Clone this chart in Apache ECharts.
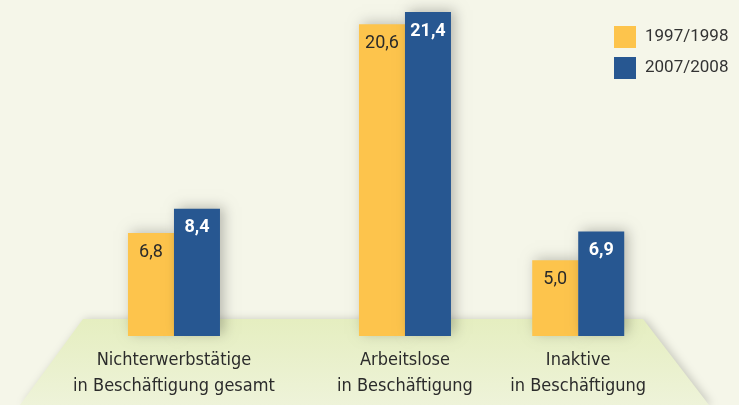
<!DOCTYPE html>
<html>
<head>
<meta charset="utf-8">
<script src="https://cdn.jsdelivr.net/npm/echarts@6/dist/echarts.min.js"></script>
<style>
html,body{margin:0;padding:0;background:#f5f6e9;}
#c{width:739px;height:405px;}
</style>
</head>
<body>
<div id="c"></div>
<script>
// Category slots (blank slots reproduce the uneven spacing of the groups)
const categories = ['Nichterwerbstätige\nin Beschäftigung gesamt', '', '', '', 'Arbeitslose\nin Beschäftigung', '', '', 'Inaktive\nin Beschäftigung'];
const seriesNames = ['1997/1998', '2007/2008'];
const values1998 = [6.8, null, null, null, 20.6, null, null, 5.0];
const values2008 = [8.4, null, null, null, 21.4, null, null, 6.9];

const chart = echarts.init(document.getElementById('c'), null, {renderer: 'canvas'});
const fmt = p => p.value == null ? '' : p.value.toFixed(1).replace('.', ',');
const font = "Roboto, 'Open Sans', sans-serif";

chart.setOption({
  backgroundColor: '#f5f6e9',
  animation: false,
  graphic: [{
    type: 'polygon',
    z: -10,
    shape: {points: [[83, 319], [643, 319], [709, 405], [20, 405]]},
    style: {
      fill: {type: 'linear', x: 0, y: 0, x2: 0, y2: 1, colorStops: [
        {offset: 0, color: '#e5eec0'}, {offset: 1, color: '#eef3d9'}]},
      shadowBlur: 8, shadowColor: 'rgba(0,0,0,0.18)', shadowOffsetX: 3
    }
  }],
  legend: {
    left: 609, top: 21, orient: 'vertical',
    itemWidth: 22, itemHeight: 22, itemGap: 9,
    icon: 'rect',
    textStyle: {fontFamily: font, fontSize: 17, color: '#333', padding: [0, 0, 0, 4]},
    data: seriesNames
  },
  grid: {left: 145.1, width: 462, top: 0, bottom: 69, containLabel: false},
  xAxis: {
    type: 'category', data: categories,
    axisLine: {show: false}, axisTick: {show: false},
    axisLabel: {
      interval: 0, margin: 11,
      fontFamily: "'Liberation Sans Narrow', 'DejaVu Sans Condensed', sans-serif",
      fontSize: 18, color: '#2b2b2b', lineHeight: 26
    }
  },
  yAxis: {type: 'value', min: 0, max: 22.2, show: false, splitLine: {show: false}},
  series: [
    {
      name: seriesNames[0], type: 'bar', data: values1998,
      barWidth: 46, barGap: '0%', clip: false,
      itemStyle: {color: '#fdc44c', shadowBlur: 12, shadowColor: 'rgba(0,0,0,0.22)', shadowOffsetX: 3, shadowOffsetY: -2},
      label: {show: true, position: 'insideTop', distance: 10, formatter: fmt,
        fontFamily: font, fontSize: 18, color: '#2a2a2a'}
    },
    {
      name: seriesNames[1], type: 'bar', data: values2008,
      barWidth: 46, clip: false,
      itemStyle: {color: '#275791', shadowBlur: 12, shadowColor: 'rgba(0,0,0,0.25)', shadowOffsetX: 4, shadowOffsetY: -2},
      label: {show: true, position: 'insideTop', distance: 10, formatter: fmt,
        fontFamily: font, fontSize: 18, fontWeight: 'bold', color: '#ffffff'}
    }
  ]
});
</script>
</body>
</html>
